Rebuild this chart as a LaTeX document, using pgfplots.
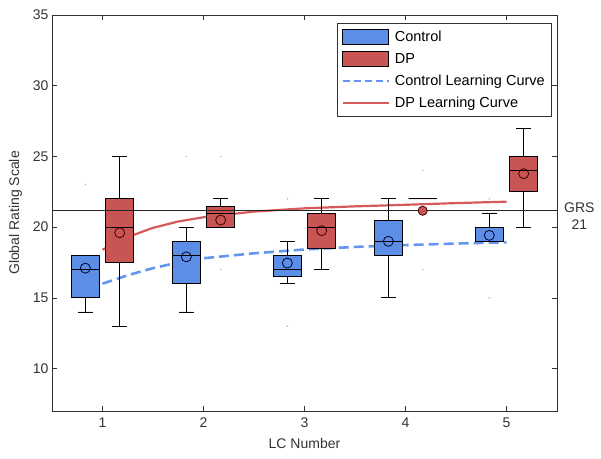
\documentclass[border=0pt]{standalone}
\usepackage{pgfplots}
\pgfplotsset{compat=1.18}
\usepgfplotslibrary{statistics}
\usepackage{fontspec}
\setmainfont{Liberation Sans}
\definecolor{cfill}{RGB}{92,142,232}
\definecolor{dfill}{RGB}{200,84,84}
\definecolor{cline}{RGB}{100,150,240}
\definecolor{dline}{RGB}{215,90,90}
\definecolor{axc}{RGB}{50,50,50}
\begin{document}
\begin{tikzpicture}[font=\fontsize{14bp}{16bp}\selectfont]
\begin{axis}[
  scale only axis, width=505bp, height=396bp,
  xmin=0.5, xmax=5.5, ymin=7, ymax=35,
  xtick={1,2,3,4,5}, ytick={10,15,20,25,30,35},
  axis line style={axc}, tick style={axc, line width=0.6bp},
  major tick length=5bp,
  /pgf/number format/assume math mode=true,
  xlabel={LC Number}, ylabel={Global Rating Scale},
  xticklabel style={yshift=-3bp},
  xlabel style={yshift=-4bp}, ylabel style={yshift=4bp},
  tick label style={black!80},
  label style={black!80},
  clip=false,
  legend style={at={(rel axis cs:0.988,0.98)}, anchor=north east, draw=axc,
    font=\fontsize{14.5bp}{16bp}\selectfont, row sep=6bp, column sep=3bp, inner xsep=4bp, inner ysep=5.5bp},
  legend cell align=left,
  boxplot/draw direction=y,
  boxplot/box extend=0.28,
  boxplot/whisker extend=0.15,
]
\coordinate (sw) at (rel axis cs:0,0);
% legend entries
\addlegendimage{legend image code/.code={\draw[fill=cfill,draw=black,line width=0.8bp] (0bp,-7bp) rectangle (46bp,8bp);}}
\addlegendentry{Control}
\addlegendimage{legend image code/.code={\draw[fill=dfill,draw=black,line width=0.8bp] (0bp,-7bp) rectangle (46bp,8bp);}}
\addlegendentry{DP}
\addlegendimage{legend image code/.code={\draw[draw=cline,line width=2.2bp,dash pattern=on 7bp off 4bp] (0bp,0bp) -- (46bp,0bp);}}
\addlegendentry{Control Learning Curve}
\addlegendimage{legend image code/.code={\draw[draw=dline,line width=2.2bp,solid] (0bp,0bp) -- (46bp,0bp);}}
\addlegendentry{DP Learning Curve}
% learning curves
\addplot[cline, line width=2.6bp, dash pattern=on 10bp off 5bp, forget plot] coordinates {
(1,16.0) (1.25,16.6) (1.5,17.1) (1.75,17.5) (2,17.8) (2.5,18.15) (3,18.42) (3.5,18.6) (4,18.73) (4.5,18.84) (5,18.93)};
\addplot[dline, line width=2.2bp, forget plot] coordinates {
(1,18.4) (1.25,19.3) (1.5,19.95) (1.75,20.4) (2,20.7) (2.5,21.1) (3,21.33) (3.5,21.47) (4,21.58) (4.5,21.7) (5,21.8)};
% faint outliers
\addplot[only marks, mark=*, mark size=0.5bp, gray!60, forget plot] coordinates {
(0.83,23) (1.83,25) (2.17,25) (2.17,17) (2.83,22) (2.83,13) (4.17,24) (4.17,17) (4.83,15) (4.83,22)};
% control boxes
\addplot+[boxplot prepared={draw position=0.83, lower whisker=14, lower quartile=15, median=17, upper quartile=18, upper whisker=18}, fill=cfill, draw=black, solid, line width=0.8bp, mark=none, forget plot] coordinates {};
\addplot+[boxplot prepared={draw position=1.83, lower whisker=14, lower quartile=16, median=18, upper quartile=19, upper whisker=20}, fill=cfill, draw=black, solid, line width=0.8bp, mark=none, forget plot] coordinates {};
\addplot+[boxplot prepared={draw position=2.83, lower whisker=16, lower quartile=16.5, median=17, upper quartile=18, upper whisker=19}, fill=cfill, draw=black, solid, line width=0.8bp, mark=none, forget plot] coordinates {};
\addplot+[boxplot prepared={draw position=3.83, lower whisker=15, lower quartile=18, median=19, upper quartile=20.5, upper whisker=22}, fill=cfill, draw=black, solid, line width=0.8bp, mark=none, forget plot] coordinates {};
\addplot+[boxplot prepared={draw position=4.83, lower whisker=19, lower quartile=19, median=19, upper quartile=20, upper whisker=21}, fill=cfill, draw=black, solid, line width=0.8bp, mark=none, forget plot] coordinates {};
% DP boxes
\addplot+[boxplot prepared={draw position=1.17, lower whisker=13, lower quartile=17.5, median=20, upper quartile=22, upper whisker=25}, fill=dfill, draw=black, solid, line width=0.8bp, mark=none, forget plot] coordinates {};
\addplot+[boxplot prepared={draw position=2.17, lower whisker=20, lower quartile=20, median=21, upper quartile=21.5, upper whisker=22}, fill=dfill, draw=black, solid, line width=0.8bp, mark=none, forget plot] coordinates {};
\addplot+[boxplot prepared={draw position=3.17, lower whisker=17, lower quartile=18.5, median=20, upper quartile=21, upper whisker=22}, fill=dfill, draw=black, solid, line width=0.8bp, mark=none, forget plot] coordinates {};
\addplot+[boxplot prepared={draw position=4.17, lower whisker=22, lower quartile=22, median=22, upper quartile=22, upper whisker=22, whisker extend=0.28}, fill=dfill, draw=black, solid, line width=0.8bp, mark=none, forget plot] coordinates {};
\addplot+[boxplot prepared={draw position=5.17, lower whisker=20, lower quartile=22.5, median=24, upper quartile=25, upper whisker=27}, fill=dfill, draw=black, solid, line width=0.8bp, mark=none, forget plot] coordinates {};
% means
\addplot[only marks, mark=o, mark size=5bp, mark options={draw=black!85!blue, line width=0.8bp}, forget plot] coordinates {
(0.83,17.1) (1.83,17.9) (2.83,17.46) (3.83,19.0) (4.83,19.42)};
\addplot[only marks, mark=o, mark size=5bp, mark options={draw=black!75!red, line width=0.8bp}, forget plot] coordinates {
(1.17,19.6) (2.17,20.5) (3.17,19.75) (5.17,23.78)};
\addplot[only marks, mark=*, mark size=4.6bp, mark options={fill=dfill, draw=black!75!red, line width=0.8bp}, forget plot] coordinates {(4.17,21.16)};
% GRS line
\addplot[black!85, line width=0.9bp, forget plot] coordinates {(0.5,21.15) (5.5,21.15)};
\node[anchor=west, align=center, black!80, inner sep=0pt, font=\fontsize{14bp}{17bp}\selectfont] at (axis cs:5.5,21.15) [xshift=7bp, yshift=-5bp] {GRS\\21};
\end{axis}
\pgfresetboundingbox
\path[use as bounding box] ([xshift=-52bp,yshift=-48bp]sw) rectangle ++(601bp,459bp);
\end{tikzpicture}
\end{document}
